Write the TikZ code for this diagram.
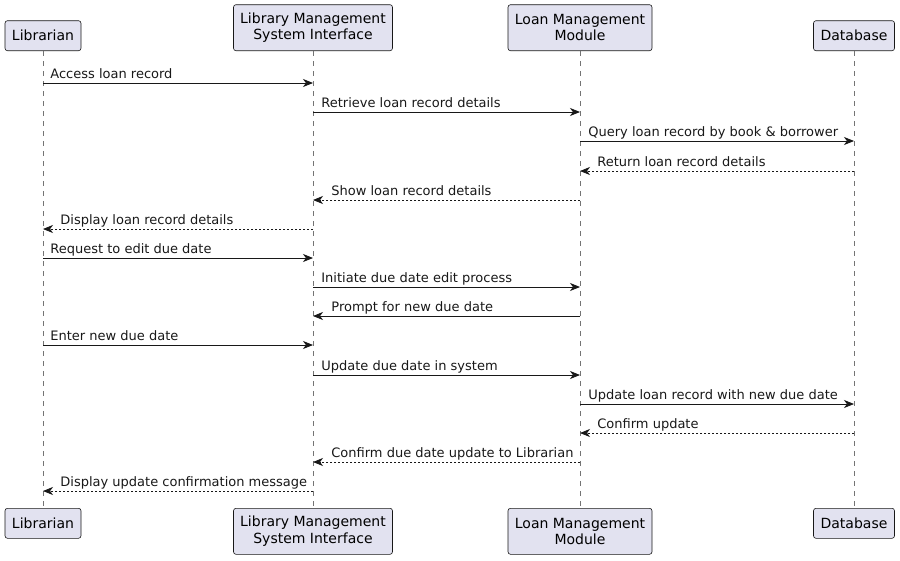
\documentclass[tikz,border=0pt]{standalone}
\usepackage{fontspec}
\setmainfont{DejaVu Sans}
\usepackage{xcolor}
\usepackage{tikz}
\usetikzlibrary{arrows.meta}
\definecolor{partfill}{HTML}{E2E2F0}
\definecolor{ink}{HTML}{181818}

\begin{document}
\begin{tikzpicture}[
  x=1pt,y=1pt,
  part/.style={draw=ink,fill=partfill,line width=0.6pt,rounded corners=2.5pt,
    align=center,inner sep=0pt,font=\fontsize{14}{16.5}\selectfont},
  tall/.style={part,minimum height=46pt},
  short/.style={part,minimum height=30pt},
  life/.style={ink!60,line width=0.6pt,dash pattern=on 5pt off 5pt},
  >={Stealth[length=10pt,width=8pt,inset=3pt]},
  msg/.style={->,ink,line width=0.8pt},
  reply/.style={msg,dash pattern=on 2pt off 2pt},
  lbl/.style={font=\fontsize{13}{15}\selectfont,inner sep=0pt,anchor=base west}
]
\useasboundingbox (0,0) rectangle (900,-560);

% ---------------- participants, top ----------------
\node[short,minimum width=76pt,anchor=south]  (libT) at (43,-51)  {Librarian};
\node[tall,minimum width=159pt,anchor=south]  (lmsT) at (313,-51) {Library Management\\System Interface};
\node[tall,minimum width=144pt,anchor=south]  (lmmT) at (580,-51) {Loan Management\\Module};
\node[short,minimum width=81pt,anchor=south]  (dbT)  at (854,-51) {Database};

% ---------------- participants, bottom ----------------
\node[short,minimum width=76pt,anchor=north]  (libB) at (43,-508)  {Librarian};
\node[tall,minimum width=159pt,anchor=north]  (lmsB) at (313,-508) {Library Management\\System Interface};
\node[tall,minimum width=144pt,anchor=north]  (lmmB) at (580,-508) {Loan Management\\Module};
\node[short,minimum width=81pt,anchor=north]  (dbB)  at (854,-508) {Database};

% ---------------- lifelines ----------------
\draw[life] (libT) -- (libB);
\draw[life] (lmsT) -- (lmsB);
\draw[life] (lmmT) -- (lmmB);
\draw[life] (dbT)  -- (dbB);

% ---------------- message rows ----------------
\foreach \i/\y in {1/83,2/112,3/141,4/171,5/200,6/229,7/258,8/287,
                   9/316,10/345,11/375,12/404,13/433,14/462,15/491}
  \coordinate (m\i) at (0,-\y);

\draw[msg]   (libT |- m1)  -- node[lbl,pos=0,xshift=7pt,yshift=5pt]{Access loan record} (lmsT |- m1);
\draw[msg]   (lmsT |- m2)  -- node[lbl,pos=0,xshift=8pt,yshift=5pt]{Retrieve loan record details} (lmmT |- m2);
\draw[msg]   (lmmT |- m3)  -- node[lbl,pos=0,xshift=8pt,yshift=5pt]{Query loan record by book \& borrower} (dbT |- m3);
\draw[reply] (dbT |- m4)   -- node[lbl,pos=1,xshift=17pt,yshift=5pt]{Return loan record details} (lmmT |- m4);
\draw[reply] (lmmT |- m5)  -- node[lbl,pos=1,xshift=18pt,yshift=5pt]{Show loan record details} (lmsT |- m5);
\draw[reply] (lmsT |- m6)  -- node[lbl,pos=1,xshift=17pt,yshift=5pt]{Display loan record details} (libT |- m6);
\draw[msg]   (libT |- m7)  -- node[lbl,pos=0,xshift=7pt,yshift=5pt]{Request to edit due date} (lmsT |- m7);
\draw[msg]   (lmsT |- m8)  -- node[lbl,pos=0,xshift=8pt,yshift=5pt]{Initiate due date edit process} (lmmT |- m8);
\draw[msg]   (lmmT |- m9)  -- node[lbl,pos=1,xshift=18pt,yshift=5pt]{Prompt for new due date} (lmsT |- m9);
\draw[msg]   (libT |- m10) -- node[lbl,pos=0,xshift=7pt,yshift=5pt]{Enter new due date} (lmsT |- m10);
\draw[msg]   (lmsT |- m11) -- node[lbl,pos=0,xshift=8pt,yshift=5pt]{Update due date in system} (lmmT |- m11);
\draw[msg]   (lmmT |- m12) -- node[lbl,pos=0,xshift=8pt,yshift=5pt]{Update loan record with new due date} (dbT |- m12);
\draw[reply] (dbT |- m13)  -- node[lbl,pos=1,xshift=17pt,yshift=5pt]{Confirm update} (lmmT |- m13);
\draw[reply] (lmmT |- m14) -- node[lbl,pos=1,xshift=18pt,yshift=5pt]{Confirm due date update to Librarian} (lmsT |- m14);
\draw[reply] (lmsT |- m15) -- node[lbl,pos=1,xshift=17pt,yshift=5pt]{Display update confirmation message} (libT |- m15);
\end{tikzpicture}
\end{document}
